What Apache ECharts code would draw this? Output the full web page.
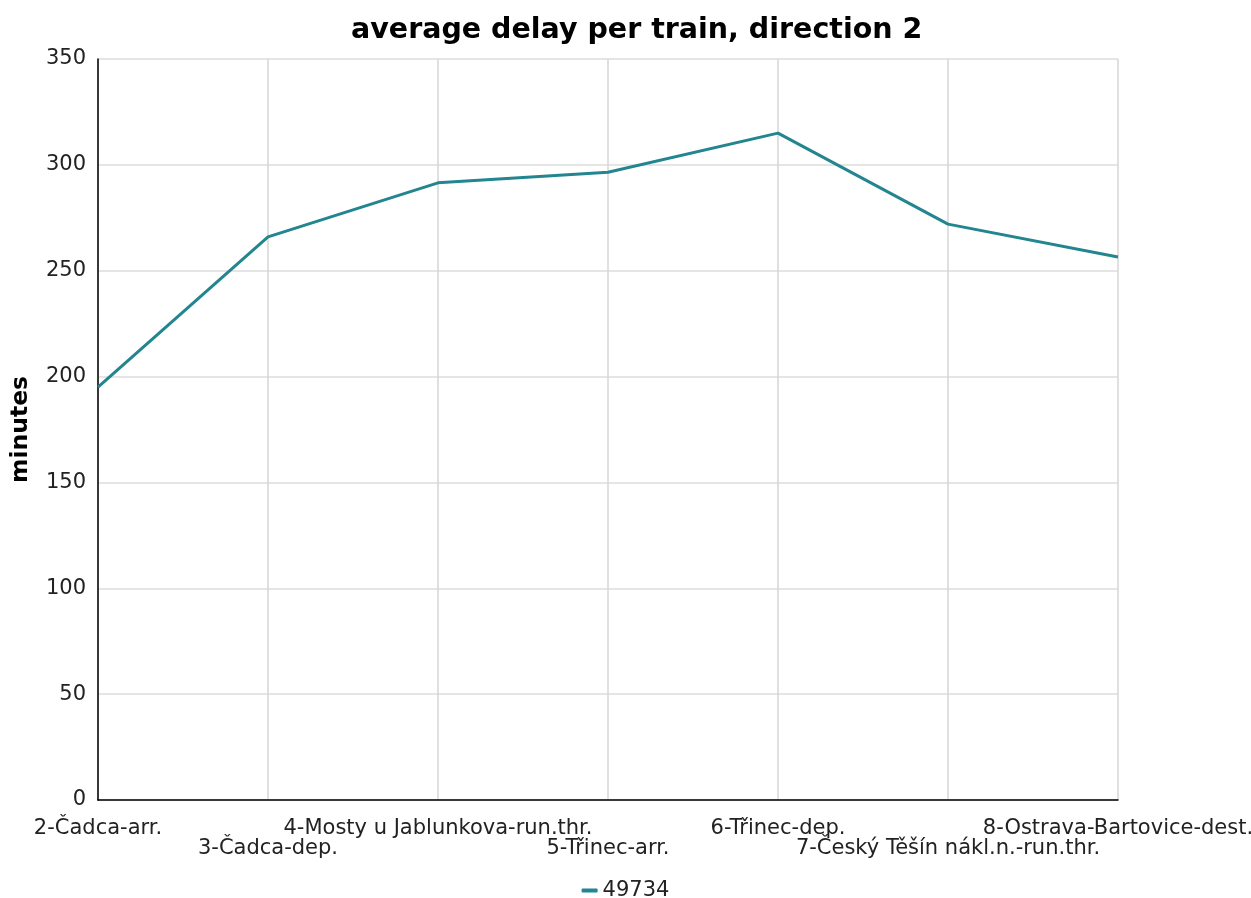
<!DOCTYPE html>
<html>
<head>
<meta charset="utf-8">
<script src="https://cdn.jsdelivr.net/npm/echarts@6/dist/echarts.min.js"></script>
<style>
  html, body { margin: 0; padding: 0; background: #fff; }
  #chart { width: 1251px; height: 898px; }
</style>
</head>
<body>
<div id="chart"></div>
<script>
const stations = [
  '2-Čadca-arr.',
  '3-Čadca-dep.',
  '4-Mosty u Jablunkova-run.thr.',
  '5-Třinec-arr.',
  '6-Třinec-dep.',
  '7-Český Těšín nákl.n.-run.thr.',
  '8-Ostrava-Bartovice-dest.'
];
const train49734 = [195, 266, 291.5, 296.5, 315, 272, 256.5];
const seriesName = '49734';

const font = 'DejaVu Sans';
const chart = echarts.init(document.getElementById('chart'));

const option = {
  backgroundColor: '#fff',
  title: {
    text: 'average delay per train, direction 2',
    left: 346,
    top: 11,
    textStyle: { fontFamily: font, fontSize: 28.5, fontWeight: 'bold', color: '#000' }
  },
  legend: {
    top: 875,
    left: 'center',
    icon: 'roundRect',
    itemWidth: 16,
    itemHeight: 4,
    itemGap: 6,
    textStyle: { fontFamily: font, fontSize: 21, color: '#222' },
    data: [seriesName]
  },
  grid: { left: 98, right: 133, top: 59, bottom: 98, outerBoundsMode: 'none' },
  xAxis: {
    type: 'category',
    data: stations,
    boundaryGap: false,
    axisLine: { lineStyle: { color: '#000', width: 1.5 } },
    axisTick: { show: false },
    axisLabel: {
      interval: 0,
      margin: 19,
      fontFamily: font,
      fontSize: 21,
      lineHeight: 20,
      color: '#222',
      formatter: (v, i) => (i % 2 ? '\n' + v : v)
    },
    splitLine: { show: true, lineStyle: { color: '#d6d6d6', width: 1.5 } }
  },
  yAxis: {
    type: 'value',
    min: 0,
    max: 350,
    interval: 50,
    name: 'minutes',
    nameLocation: 'middle',
    nameGap: 65,
    nameTextStyle: { fontFamily: font, fontSize: 23.5, fontWeight: 'bold', color: '#000' },
    axisLine: { show: true, lineStyle: { color: '#000', width: 1.5 } },
    axisTick: { show: false },
    axisLabel: { margin: 12, fontFamily: font, fontSize: 21, color: '#222' },
    splitLine: { lineStyle: { color: '#dcdcdc', width: 1.5 } }
  },
  series: [
    {
      name: seriesName,
      type: 'line',
      data: train49734,
      symbol: 'none',
      lineStyle: { color: '#22858f', width: 3 },
      itemStyle: { color: '#22858f' }
    }
  ]
};

chart.setOption(option);
</script>
</body>
</html>
